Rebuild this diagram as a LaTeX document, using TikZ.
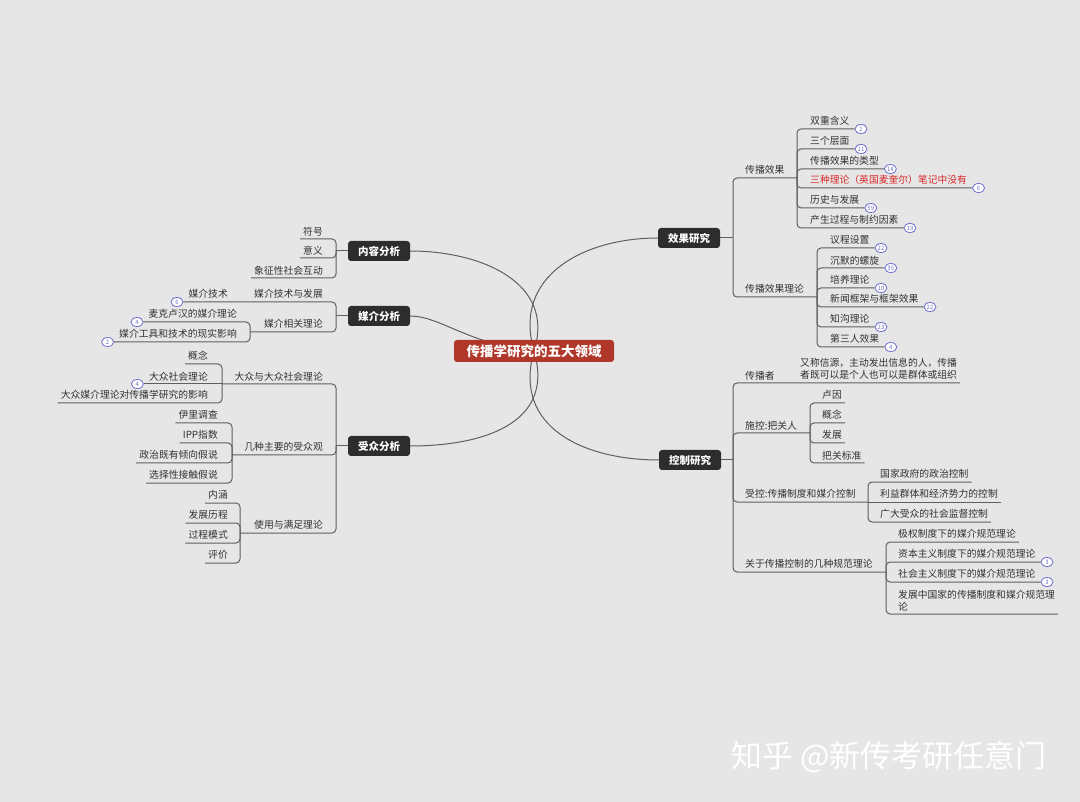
\documentclass[tikz,border=0pt]{standalone}
\usepackage{fontspec}
\setmainfont{Noto Sans CJK SC}
\usetikzlibrary{positioning,shapes.geometric,backgrounds}

\definecolor{bgray}{RGB}{230,230,230}
\definecolor{linegray}{RGB}{95,95,95}
\definecolor{txtgray}{RGB}{50,50,50}
\definecolor{rootred}{RGB}{176,56,42}
\definecolor{topicdark}{RGB}{45,45,45}
\definecolor{badgeblue}{RGB}{110,110,205}
\definecolor{hilite}{RGB}{215,40,40}

\begin{document}
\begin{tikzpicture}[x=1pt, y=-1pt,
    root/.style={fill=rootred, text=white, rounded corners=3pt, minimum width=160pt, minimum height=22pt, font=\fontsize{13.5}{14}\selectfont\bfseries},
    topic/.style={fill=topicdark, text=white, rounded corners=3pt, minimum width=62pt, minimum height=20pt, font=\fontsize{10.5}{12}\selectfont\bfseries},
    leaf/.style={inner xsep=3pt, inner ysep=3pt, text=txtgray, font=\fontsize{9.8}{12}\selectfont},
    badge/.style={ellipse, draw=badgeblue, fill=white, text=badgeblue, line width=0.8pt, minimum width=12pt, minimum height=9pt, inner sep=0pt, font=\fontsize{6}{6}\selectfont},
    link/.style={draw=linegray, line width=1pt, rounded corners=4pt},
    curve/.style={draw=linegray, line width=1pt}
  ]
  \useasboundingbox (0,0) rectangle (1080,802);
  \begin{pgfonlayer}{background}
    \fill[bgray] (0,0) rectangle (1080,802);
  \end{pgfonlayer}

  % centre
  \node[root] (root) at (534,351) {传播学研究的五大领域};

  % ---------- right: 效果研究
  \node[topic] (xg) at (689,238) {效果研究};
  \coordinate (jxg) at (733,238);
  \draw[link] (xg.east) -- (jxg);
  \node[leaf, anchor=south west] (xg1) at (742,178) {传播效果};
  \node[leaf, anchor=south west] (xg2) at (742,297) {传播效果理论};
  \coordinate (jxg1) at (797,178);
  \coordinate (jxg2) at (817,297);
  \draw[link] (jxg) |- (xg1.south west) -- (jxg1);
  \draw[link] (jxg) |- (xg2.south west) -- (jxg2);
  \foreach \y/\t/\n [count=\i] in {129/双重含义/2, 149/三个层面/11, 169/传播效果的类型/14,
      188/{\color{hilite}三种理论（英国麦奎尔）笔记中没有}/6, 208/历史与发展/59, 228/产生过程与制约因素/19} {
    \node[leaf, anchor=south west] (xg1-\i) at (807,\y) {\t};
    \node[badge, right=2pt of xg1-\i.south east] (xg1n-\i) {\n};
    \draw[link] (jxg1) |- (xg1-\i.south west) -- (xg1n-\i.west);
  }
  \foreach \y/\t/\n [count=\i] in {248/议程设置/22, 268/沉默的螺旋/35, 288/培养理论/10,
      307/新闻框架与框架效果/22, 327/知沟理论/23, 347/第三人效果/4} {
    \node[leaf, anchor=south west] (xg2-\i) at (827,\y) {\t};
    \node[badge, right=2pt of xg2-\i.south east] (xg2n-\i) {\n};
    \draw[link] (jxg2) |- (xg2-\i.south west) -- (xg2n-\i.west);
  }

  % ---------- right: 控制研究
  \node[topic] (kz) at (690,460) {控制研究};
  \coordinate (jkz) at (733,460);
  \draw[link] (kz.east) -- (jkz);
  \node[leaf, anchor=south west] (kz1) at (742,383) {传播者};
  \node[leaf, anchor=south west, align=left] (kz1-1) at (797,383) {又称信源，主动发出信息的人，传播\\者既可以是个人也可以是群体或组织};
  \draw[link] (jkz) |- (kz1.south west) -- (kz1-1.south east);

  \node[leaf, anchor=south west] (kz2) at (742,433) {施控:把关人};
  \coordinate (jkz2) at (810,433);
  \draw[link] (jkz) |- (kz2.south west) -- (jkz2);
  \foreach \y/\t [count=\i] in {403/卢因, 423/概念, 443/发展, 463/把关标准} {
    \node[leaf, anchor=south west] (kz2-\i) at (819,\y) {\t};
    \draw[link] (jkz2) |- (kz2-\i.south west) -- (kz2-\i.south east);
  }

  \node[leaf, anchor=south west] (kz3) at (742,502) {受控:传播制度和媒介控制};
  \coordinate (jkz3) at (868,502);
  \draw[link] (jkz) |- (kz3.south west) -- (jkz3);
  \node[leaf, anchor=south west] (kz3-1) at (877,482) {国家政府的政治控制};
  \node[leaf, anchor=south west] (kz3-2) at (877,502) {利益群体和经济势力的控制};
  \node[leaf, anchor=south west] (kz3-3) at (877,522) {广大受众的社会监督控制};
  \draw[link] (jkz3) |- (kz3-1.south west) -- (kz3-1.south east);
  \draw[link] (jkz3) -- (kz3-2.south east);
  \draw[link] (jkz3) |- (kz3-3.south west) -- (kz3-3.south east);

  \node[leaf, anchor=south west] (kz4) at (742,572) {关于传播控制的几种规范理论};
  \coordinate (jkz4) at (886,572);
  \draw[link] (jkz) |- (kz4.south west) -- (jkz4);
  \node[leaf, anchor=south west] (kz4-1) at (895,542) {极权制度下的媒介规范理论};
  \node[leaf, anchor=south west] (kz4-2) at (895,562) {资本主义制度下的媒介规范理论};
  \node[leaf, anchor=south west] (kz4-3) at (895,582) {社会主义制度下的媒介规范理论};
  \node[leaf, anchor=south west, align=left] (kz4-4) at (895,614) {发展中国家的传播制度和媒介规范理\\论};
  \node[badge, right=2pt of kz4-2.south east] (kz4n-2) {3};
  \node[badge, right=2pt of kz4-3.south east] (kz4n-3) {3};
  \draw[link] (jkz4) |- (kz4-1.south west) -- (kz4-1.south east);
  \draw[link] (jkz4) |- (kz4-2.south west) -- (kz4n-2.west);
  \draw[link] (jkz4) |- (kz4-3.south west) -- (kz4n-3.west);
  \draw[link] (jkz4) |- (kz4-4.south west) -- (kz4-4.south east);

  % ---------- left: 内容分析
  \node[topic] (nr) at (379,251) {内容分析};
  \coordinate (jnr) at (336,251);
  \draw[link] (nr.west) -- (jnr);
  \foreach \y/\t [count=\i] in {239/符号, 258/意义, 278/象征性社会互动} {
    \node[leaf, anchor=south east] (nr-\i) at (326,\y) {\t};
    \draw[link] (jnr) |- (nr-\i.south east) -- (nr-\i.south west);
  }

  % ---------- left: 媒介分析
  \node[topic] (mj) at (379,316) {媒介分析};
  \coordinate (jmj) at (336,316);
  \draw[link] (mj.west) -- (jmj);
  \node[leaf, anchor=south east] (mj1) at (326,302) {媒介技术与发展};
  \node[leaf, anchor=south east] (mj1-1) at (231,302) {媒介技术};
  \node[badge, left=2pt of mj1-1.south west] (mj1n-1) {6};
  \draw[link] (jmj) |- (mj1.south east) -- (mj1n-1.east);
  \node[leaf, anchor=south east] (mj2) at (326,332) {媒介相关理论};
  \coordinate (jmj2) at (250,332);
  \draw[link] (jmj) |- (mj2.south east) -- (jmj2);
  \node[leaf, anchor=south east] (mj2-1) at (240,322) {麦克卢汉的媒介理论};
  \node[leaf, anchor=south east] (mj2-2) at (240,342) {媒介工具和技术的现实影响};
  \node[badge, left=2pt of mj2-1.south west] (mj2n-1) {4};
  \node[badge, left=2pt of mj2-2.south west] (mj2n-2) {2};
  \draw[link] (jmj2) |- (mj2-1.south east) -- (mj2n-1.east);
  \draw[link] (jmj2) |- (mj2-2.south east) -- (mj2n-2.east);

  % ---------- left: 受众分析
  \node[topic] (sz) at (379,446) {受众分析};
  \coordinate (jsz) at (336,446);
  \draw[link] (sz.west) -- (jsz);
  \node[leaf, anchor=south east] (sz1) at (326,384) {大众与大众社会理论};
  \coordinate (jsz1) at (222,384);
  \draw[link] (jsz) |- (sz1.south east) -- (jsz1);
  \node[leaf, anchor=south east] (sz1-1) at (211,364) {概念};
  \node[leaf, anchor=south east] (sz1-2) at (211,384) {大众社会理论};
  \node[leaf, anchor=south east] (sz1-3) at (211,403) {大众媒介理论对传播学研究的影响};
  \node[badge, left=2pt of sz1-2.south west] (sz1n-2) {4};
  \draw[link] (jsz1) |- (sz1-1.south east) -- (sz1-1.south west);
  \draw[link] (jsz1) -- (sz1n-2.east);
  \draw[link] (jsz1) |- (sz1-3.south east) -- (sz1-3.south west);

  \node[leaf, anchor=south east] (sz2) at (326,455) {几种主要的受众观};
  \coordinate (jsz2) at (232,455);
  \draw[link] (jsz) |- (sz2.south east) -- (jsz2);
  \foreach \y/\t [count=\i] in {423/伊里调查, 443/IPP指数, 463/政治既有倾向假说, 483/选择性接触假说} {
    \node[leaf, anchor=south east] (sz2-\i) at (221,\y) {\t};
    \draw[link] (jsz2) |- (sz2-\i.south east) -- (sz2-\i.south west);
  }

  \node[leaf, anchor=south east] (sz3) at (326,533) {使用与满足理论};
  \coordinate (jsz3) at (240,533);
  \draw[link] (jsz) |- (sz3.south east) -- (jsz3);
  \foreach \y/\t [count=\i] in {503/内涵, 523/发展历程, 543/过程模式, 563/评价} {
    \node[leaf, anchor=south east] (sz3-\i) at (231,\y) {\t};
    \draw[link] (jsz3) |- (sz3-\i.south east) -- (sz3-\i.south west);
  }

  % main branches from the centre
  \begin{pgfonlayer}{background}
    \draw[curve] (root.center) .. controls (512,275) and (585,238) .. (xg.west);
    \draw[curve] (root.center) .. controls (512,428) and (585,460) .. (kz.west);
    \draw[curve] (root.center) .. controls (556,282) and (480,251) .. (nr.east);
    \draw[curve] (root.center) .. controls (470,345) and (440,316) .. (mj.east);
    \draw[curve] (root.center) .. controls (556,425) and (480,446) .. (sz.east);
  \end{pgfonlayer}

  % watermark
  \node[text=white, font=\fontsize{31}{31}\selectfont] (wm) at (889,757) {知乎 @新传考研任意门};
\end{tikzpicture}
\end{document}
